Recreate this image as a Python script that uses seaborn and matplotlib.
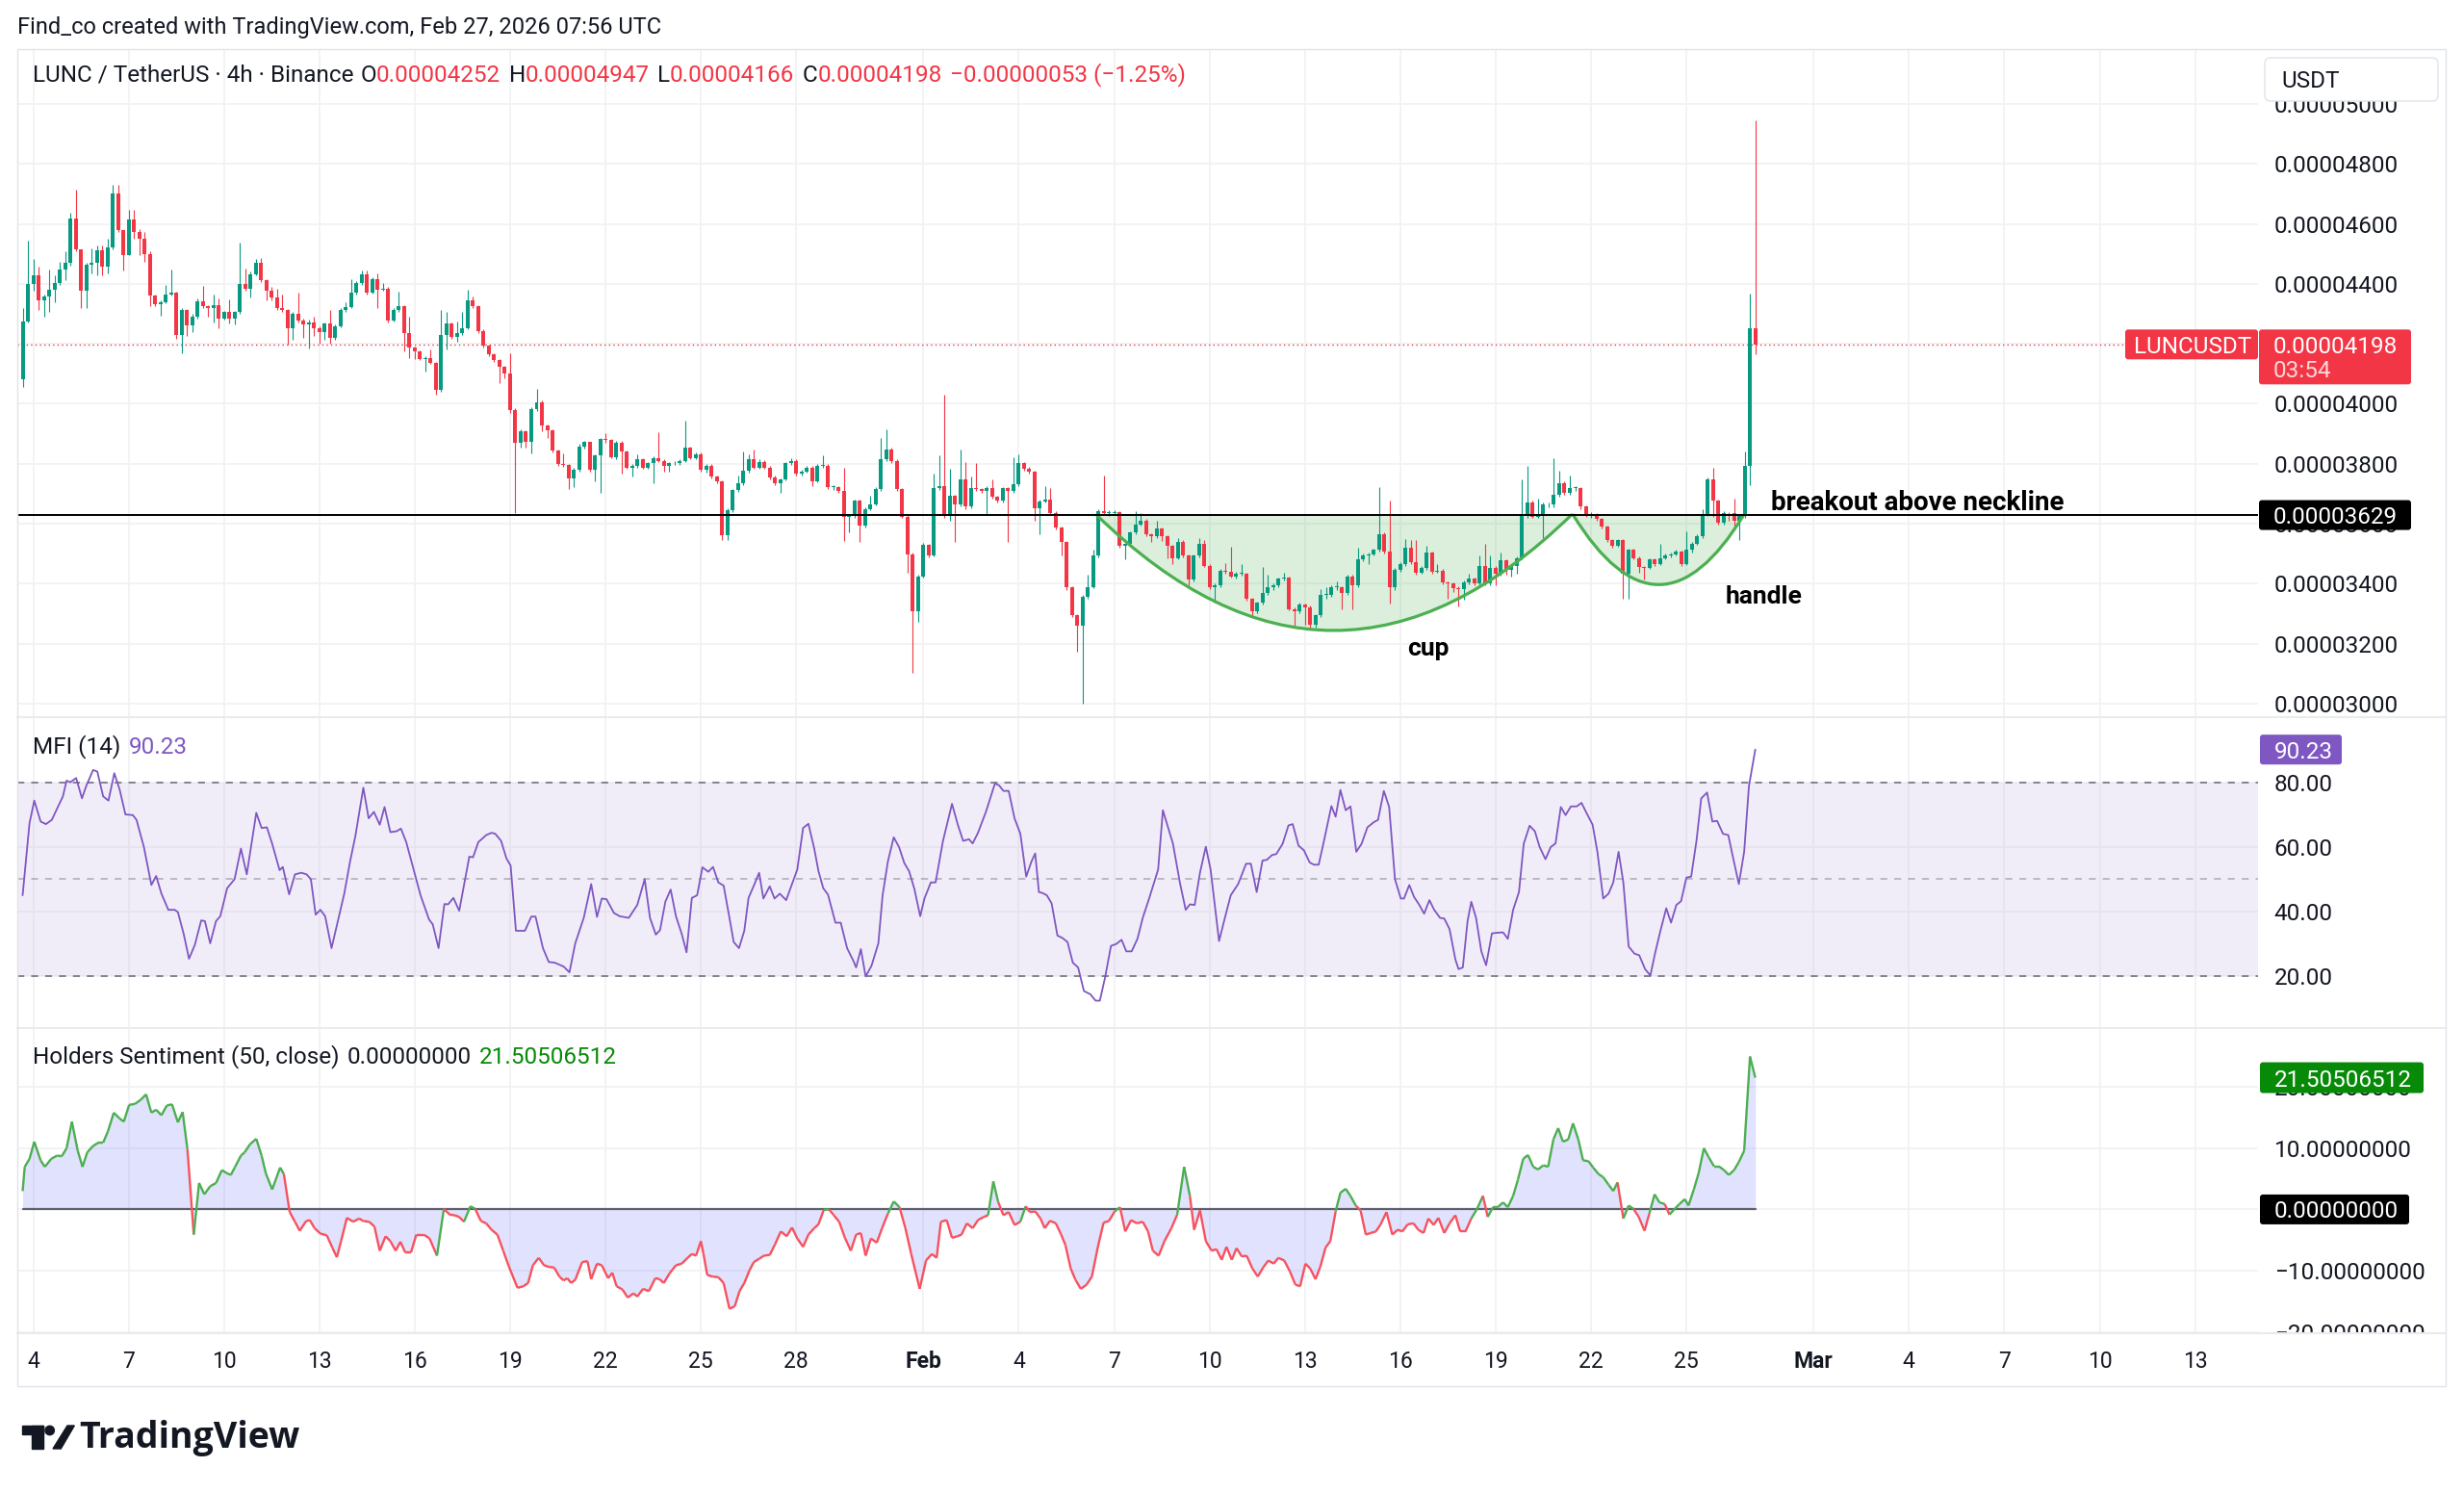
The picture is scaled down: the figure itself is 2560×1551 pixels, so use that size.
import numpy as np
import pandas as pd
import seaborn as sns
import matplotlib.pyplot as plt
from matplotlib.path import Path
from matplotlib.patches import PathPatch, Rectangle, FancyBboxPatch, Polygon, Circle
from matplotlib.collections import LineCollection
from matplotlib.lines import Line2D
from matplotlib.transforms import IdentityTransform

sns.set_style("white")
plt.rcParams['font.family'] = ['Roboto', 'DejaVu Sans']

W, H = 2560, 1551

# LUNC / USDT 4h candles, prices in units of 1e-8 USDT
# first bar opens Jan 3 16:00 UTC, last one Feb 27 04:00 UTC
first_open = 4082
last_open = 4252
closes = [
    4276, 4399, 4430, 4344, 4357, 4381, 4403, 4449, 4469, 4617,
    4515, 4377, 4465, 4469, 4512, 4458, 4521, 4702, 4580, 4496,
    4616, 4574, 4551, 4498, 4360, 4331, 4340, 4364, 4371, 4229,
    4312, 4263, 4292, 4342, 4325, 4318, 4329, 4285, 4305, 4285,
    4305, 4399, 4384, 4433, 4469, 4413, 4377, 4354, 4318, 4312,
    4253, 4299, 4279, 4266, 4272, 4253, 4240, 4268, 4220, 4259,
    4312, 4321, 4371, 4403, 4433, 4371, 4416, 4381, 4384, 4279,
    4312, 4327, 4237, 4187, 4174, 4148, 4154, 4137, 4046, 4230,
    4268, 4224, 4236, 4253, 4344, 4325, 4242, 4194, 4165, 4145,
    4122, 4102, 3978, 3870, 3909, 3873, 3981, 4006, 3928, 3912,
    3844, 3798, 3797, 3752, 3781, 3856, 3873, 3781, 3827, 3883,
    3879, 3823, 3870, 3840, 3788, 3794, 3814, 3788, 3801, 3818,
    3810, 3794, 3801, 3801, 3810, 3853, 3820, 3833, 3781, 3794,
    3757, 3742, 3561, 3646, 3712, 3735, 3778, 3814, 3788, 3807,
    3788, 3755, 3735, 3748, 3801, 3810, 3768, 3774, 3788, 3742,
    3794, 3794, 3722, 3722, 3709, 3624, 3626, 3676, 3594, 3650,
    3666, 3716, 3814, 3846, 3810, 3716, 3624, 3499, 3309, 3425,
    3530, 3495, 3718, 3725, 3626, 3692, 3663, 3748, 3657, 3718,
    3716, 3709, 3718, 3689, 3676, 3718, 3709, 3731, 3801, 3784,
    3774, 3653, 3674, 3679, 3637, 3587, 3539, 3388, 3296, 3260,
    3355, 3388, 3493, 3643, 3637, 3637, 3640, 3526, 3532, 3571,
    3598, 3611, 3565, 3558, 3584, 3558, 3526, 3486, 3539, 3493,
    3414, 3493, 3532, 3460, 3388, 3394, 3443, 3440, 3425, 3434,
    3434, 3349, 3309, 3336, 3368, 3388, 3394, 3417, 3421, 3316,
    3309, 3329, 3322, 3263, 3296, 3362, 3362, 3388, 3388, 3368,
    3425, 3394, 3482, 3495, 3499, 3512, 3565, 3506, 3388, 3447,
    3467, 3519, 3473, 3438, 3453, 3503, 3440, 3443, 3404, 3401,
    3385, 3381, 3404, 3417, 3401, 3460, 3401, 3453, 3434, 3477,
    3447, 3460, 3486, 3627, 3670, 3624, 3626, 3663, 3663, 3696,
    3735, 3702, 3718, 3718, 3657, 3630, 3630, 3617, 3590, 3545,
    3526, 3545, 3434, 3512, 3486, 3456, 3453, 3480, 3467, 3486,
    3493, 3499, 3506, 3467, 3512, 3532, 3558, 3630, 3748, 3676,
    3604, 3637, 3634, 3611, 3626, 3794, 4251, 4198]
highs = [
    4318, 4544, 4482, 4456, 4364, 4449, 4430, 4475, 4508, 4638,
    4714, 4515, 4469, 4517, 4528, 4528, 4551, 4730, 4730, 4580,
    4648, 4648, 4583, 4574, 4508, 4365, 4345, 4397, 4449, 4375,
    4318, 4315, 4300, 4351, 4393, 4330, 4364, 4351, 4310, 4347,
    4310, 4538, 4452, 4440, 4482, 4486, 4415, 4390, 4384, 4364,
    4315, 4305, 4371, 4285, 4280, 4292, 4258, 4272, 4312, 4265,
    4318, 4338, 4416, 4410, 4445, 4445, 4422, 4436, 4403, 4390,
    4318, 4373, 4330, 4292, 4190, 4178, 4160, 4181, 4140, 4312,
    4305, 4272, 4276, 4308, 4380, 4357, 4330, 4248, 4198, 4170,
    4150, 4128, 4167, 3985, 3915, 3912, 3988, 4050, 4010, 3932,
    3916, 3848, 3836, 3800, 3788, 3866, 3875, 3873, 3833, 3886,
    3901, 3883, 3876, 3875, 3845, 3800, 3831, 3818, 3806, 3824,
    3905, 3815, 3806, 3808, 3815, 3945, 3858, 3838, 3838, 3798,
    3798, 3760, 3745, 3652, 3716, 3761, 3840, 3831, 3846, 3815,
    3812, 3792, 3760, 3752, 3806, 3818, 3814, 3780, 3794, 3792,
    3800, 3827, 3798, 3730, 3726, 3788, 3632, 3680, 3680, 3656,
    3692, 3722, 3886, 3915, 3855, 3815, 3720, 3628, 3503, 3431,
    3536, 3533, 3768, 3827, 4032, 3784, 3698, 3846, 3807, 3757,
    3803, 3720, 3724, 3748, 3692, 3722, 3722, 3823, 3831, 3806,
    3790, 3778, 3680, 3726, 3718, 3642, 3592, 3543, 3392, 3300,
    3362, 3430, 3512, 3650, 3761, 3645, 3646, 3643, 3536, 3576,
    3643, 3637, 3615, 3568, 3611, 3588, 3562, 3530, 3552, 3545,
    3498, 3499, 3552, 3545, 3465, 3400, 3448, 3469, 3522, 3440,
    3467, 3438, 3352, 3340, 3456, 3430, 3400, 3422, 3438, 3425,
    3322, 3338, 3335, 3326, 3300, 3381, 3388, 3395, 3408, 3392,
    3430, 3430, 3519, 3500, 3503, 3518, 3722, 3570, 3676, 3452,
    3472, 3548, 3545, 3545, 3458, 3526, 3508, 3467, 3448, 3408,
    3406, 3390, 3410, 3434, 3422, 3493, 3532, 3493, 3458, 3503,
    3482, 3465, 3490, 3748, 3794, 3676, 3683, 3670, 3670, 3820,
    3778, 3740, 3761, 3726, 3722, 3660, 3640, 3634, 3620, 3594,
    3548, 3550, 3548, 3518, 3516, 3490, 3460, 3485, 3484, 3532,
    3500, 3505, 3512, 3510, 3574, 3540, 3565, 3650, 3755, 3788,
    3680, 3643, 3640, 3683, 3630, 3840, 4368, 4947]
lows = [
    4056, 4270, 4377, 4312, 4292, 4308, 4338, 4397, 4412, 4462,
    4508, 4318, 4318, 4436, 4430, 4430, 4436, 4515, 4574, 4443,
    4496, 4551, 4495, 4475, 4325, 4325, 4295, 4335, 4360, 4216,
    4168, 4226, 4240, 4285, 4318, 4292, 4272, 4253, 4280, 4268,
    4266, 4300, 4378, 4355, 4428, 4405, 4344, 4345, 4312, 4305,
    4198, 4213, 4272, 4220, 4183, 4226, 4200, 4213, 4200, 4214,
    4255, 4308, 4318, 4365, 4398, 4365, 4368, 4318, 4378, 4272,
    4274, 4305, 4174, 4154, 4150, 4145, 4109, 4132, 4030, 4040,
    4181, 4218, 4207, 4230, 4248, 4320, 4236, 4188, 4158, 4138,
    4069, 4085, 3970, 3634, 3853, 3853, 3836, 3975, 3909, 3886,
    3838, 3792, 3790, 3716, 3722, 3775, 3850, 3775, 3742, 3702,
    3870, 3818, 3815, 3768, 3782, 3757, 3788, 3782, 3784, 3735,
    3805, 3774, 3774, 3795, 3796, 3806, 3815, 3815, 3775, 3772,
    3750, 3735, 3545, 3545, 3640, 3705, 3730, 3770, 3782, 3784,
    3782, 3748, 3728, 3702, 3744, 3796, 3762, 3762, 3770, 3725,
    3738, 3788, 3716, 3712, 3702, 3541, 3571, 3620, 3539, 3588,
    3644, 3660, 3709, 3808, 3802, 3710, 3618, 3436, 3104, 3273,
    3420, 3488, 3490, 3712, 3620, 3611, 3539, 3658, 3650, 3652,
    3710, 3702, 3630, 3684, 3670, 3672, 3539, 3704, 3726, 3778,
    3768, 3611, 3565, 3670, 3632, 3580, 3493, 3380, 3288, 3172,
    3001, 3350, 3384, 3488, 3630, 3626, 3630, 3520, 3482, 3526,
    3566, 3594, 3558, 3539, 3552, 3541, 3486, 3467, 3480, 3488,
    3394, 3408, 3488, 3455, 3381, 3336, 3388, 3434, 3420, 3418,
    3428, 3342, 3290, 3302, 3330, 3362, 3380, 3388, 3410, 3310,
    3257, 3302, 3263, 3246, 3255, 3290, 3350, 3355, 3378, 3316,
    3362, 3316, 3388, 3476, 3467, 3493, 3506, 3500, 3333, 3380,
    3440, 3460, 3466, 3430, 3432, 3446, 3434, 3436, 3398, 3351,
    3372, 3325, 3346, 3398, 3395, 3396, 3395, 3396, 3394, 3428,
    3430, 3425, 3434, 3480, 3620, 3618, 3618, 3552, 3655, 3656,
    3690, 3696, 3696, 3710, 3650, 3624, 3620, 3610, 3584, 3539,
    3519, 3522, 3349, 3349, 3480, 3438, 3414, 3448, 3460, 3462,
    3480, 3488, 3495, 3460, 3462, 3505, 3530, 3552, 3625, 3624,
    3598, 3598, 3610, 3578, 3545, 3620, 3728, 4166]

# MFI(14): (bar index, value) at the turning points of the line
mfi_points = [
    (0.0, 45.0), (1.3, 67.4), (2.2, 74.4), (3.4, 67.9), (4.4, 67.1), (5.5, 68.4),
    (6.5, 71.9), (7.6, 75.7), (8.3, 80.6), (9.0, 80.1), (10.1, 81.4), (11.2, 75.1),
    (12.0, 78.9), (13.3, 83.9), (14.1, 83.4), (15.2, 75.7), (16.2, 74.4), (17.3, 82.9),
    (18.3, 77.9), (19.4, 70.1), (20.8, 69.9), (21.5, 68.4), (22.9, 59.9), (24.3, 48.2),
    (25.2, 51.0), (26.2, 45.5), (27.5, 40.5), (28.7, 40.5), (29.3, 39.8), (30.4, 33.0),
    (31.4, 25.3), (32.5, 29.6), (33.7, 37.2), (34.4, 37.0), (35.4, 30.1), (36.5, 37.0),
    (37.3, 38.5), (38.6, 47.2), (40.0, 50.0), (41.2, 59.5), (42.3, 51.5), (44.1, 70.6),
    (45.1, 65.9), (46.1, 66.1), (47.1, 61.0), (48.5, 52.8), (49.1, 53.8), (50.3, 45.3),
    (51.4, 51.5), (52.6, 52.0), (53.6, 51.5), (54.4, 50.0), (55.3, 39.0), (56.2, 40.5),
    (57.1, 38.5), (58.3, 28.6), (60.7, 45.5), (61.8, 55.5), (62.8, 63.4), (64.3, 78.4),
    (65.3, 68.9), (66.3, 70.9), (67.4, 66.9), (68.3, 72.4), (69.4, 64.6), (70.6, 64.9),
    (71.4, 65.7), (72.4, 61.5), (73.8, 53.0), (75.1, 45.0), (76.7, 37.5), (77.4, 36.0),
    (78.5, 28.6), (79.6, 42.3), (80.3, 42.2), (81.3, 44.2), (82.4, 40.2), (84.3, 57.0),
    (85.0, 56.8), (86.0, 61.5), (87.5, 63.7), (88.5, 64.4), (89.2, 64.1), (90.3, 61.9),
    (91.3, 56.5), (92.1, 54.2), (93.1, 34.0), (94.8, 34.0), (96.0, 38.4), (96.8, 38.4),
    (98.2, 28.6), (99.3, 24.3), (100.4, 24.1), (102.1, 22.9), (103.2, 21.1), (104.3, 30.1),
    (105.9, 38.0), (107.3, 48.5), (108.4, 38.3), (109.3, 44.0), (110.2, 43.8), (111.6, 39.5),
    (112.7, 38.5), (114.4, 38.0), (116.0, 42.0), (117.4, 50.0), (118.4, 38.0), (119.5, 32.8),
    (120.3, 34.2), (121.3, 43.0), (122.3, 46.8), (123.3, 38.5), (124.4, 33.0), (125.3, 27.3),
    (126.3, 44.2), (127.3, 45.0), (128.3, 53.7), (129.4, 52.3), (130.3, 53.8), (131.3, 49.0),
    (132.3, 48.0), (133.4, 38.0), (134.2, 30.5), (135.2, 28.6), (136.2, 34.0), (137.0, 44.2),
    (138.0, 48.0), (139.0, 52.0), (139.8, 44.0), (141.0, 47.8), (141.9, 44.0), (142.9, 45.5),
    (144.1, 43.5), (146.2, 53.0), (147.3, 65.9), (148.3, 67.2), (149.4, 59.5), (150.2, 52.5),
    (151.1, 47.2), (152.0, 45.2), (153.4, 36.5), (154.4, 36.5), (155.6, 28.6), (156.8, 24.6),
    (157.3, 22.6), (158.2, 28.3), (159.1, 19.8), (160.2, 23.1), (161.5, 30.1), (162.3, 45.0),
    (163.3, 55.5), (164.4, 63.0), (165.4, 60.0), (166.4, 55.0), (167.3, 52.5), (168.3, 47.0),
    (169.4, 38.5), (170.2, 44.0), (171.4, 49.0), (172.3, 49.0), (173.7, 61.9), (175.4, 73.4),
    (176.5, 66.9), (177.5, 61.9), (178.6, 62.4), (179.3, 61.1), (180.3, 64.4), (181.8, 70.9),
    (183.5, 79.7), (184.3, 79.1), (185.1, 77.4), (186.1, 77.4), (187.2, 68.9), (188.3, 64.1),
    (189.4, 50.8), (190.4, 55.5), (191.1, 58.0), (191.8, 46.0), (192.5, 45.7), (193.3, 45.0),
    (194.2, 42.5), (195.3, 32.5), (196.2, 31.8), (197.2, 30.5), (198.2, 24.1), (199.2, 22.6),
    (200.3, 15.3), (201.5, 14.3), (202.5, 12.3), (203.3, 12.3), (204.3, 19.6), (205.4, 29.3),
    (206.4, 29.9), (207.4, 31.2), (208.3, 27.6), (209.3, 27.6), (210.4, 31.5), (211.4, 38.0),
    (212.6, 44.0), (214.3, 53.0), (215.2, 71.4), (217.1, 61.0), (218.4, 49.0), (219.5, 40.5),
    (220.3, 42.2), (221.2, 42.0), (222.2, 52.0), (223.3, 60.1), (224.2, 53.0), (225.8, 30.8),
    (226.9, 38.0), (228.0, 45.0), (229.4, 48.5), (230.9, 54.8), (231.8, 54.8), (232.9, 46.0),
    (234.0, 55.8), (234.8, 56.0), (235.8, 57.5), (236.6, 57.8), (237.8, 61.0), (238.9, 66.7),
    (239.7, 67.1), (240.8, 60.4), (241.8, 59.0), (242.9, 55.2), (243.7, 54.5), (244.6, 54.5),
    (245.6, 61.9), (247.0, 72.7), (247.8, 69.4), (248.7, 77.7), (249.7, 71.4), (250.6, 72.6),
    (251.7, 58.5), (252.7, 61.0), (253.8, 66.1), (255.0, 67.7), (255.8, 68.4), (256.9, 77.4),
    (257.9, 72.4), (259.0, 50.0), (260.1, 44.0), (260.7, 44.0), (261.7, 48.2), (262.6, 44.5),
    (263.6, 42.0), (264.5, 39.3), (265.5, 43.5), (266.4, 40.5), (267.5, 38.0), (268.3, 37.8),
    (269.3, 34.5), (270.4, 25.1), (271.0, 22.1), (271.8, 22.6), (272.7, 37.0), (273.4, 43.0),
    (274.3, 38.0), (275.3, 27.6), (276.2, 23.3), (277.3, 33.2), (278.4, 33.4), (279.4, 33.5),
    (280.3, 31.5), (281.3, 40.5), (282.4, 46.0), (283.3, 61.0), (284.4, 66.6), (285.4, 64.9),
    (286.3, 60.0), (287.4, 56.2), (288.4, 60.0), (289.3, 61.1), (290.3, 72.4), (291.2, 69.9),
    (292.2, 72.6), (293.3, 72.6), (294.2, 73.7), (295.2, 70.4), (296.3, 66.9), (297.2, 58.5),
    (298.3, 44.0), (299.3, 45.5), (300.2, 49.0), (301.2, 58.5), (302.1, 49.0), (303.1, 29.1),
    (304.2, 26.9), (305.1, 26.4), (306.2, 22.1), (307.2, 20.1), (308.1, 27.1), (309.1, 34.0),
    (310.2, 41.0), (311.1, 36.5), (312.1, 42.0), (313.0, 43.2), (314.0, 50.5), (314.9, 50.8),
    (315.9, 61.9), (316.8, 75.1), (317.9, 76.9), (318.9, 67.9), (319.8, 68.1), (320.9, 64.1),
    (321.9, 63.7), (323.0, 55.2), (323.9, 48.5), (324.9, 58.5), (325.8, 78.9), (327.0, 90.23)]

# Holders Sentiment (50, close): (bar index, value)
sent_points = [
    (0.0, 3.0), (0.4, 6.95), (1.3, 8.26), (2.2, 11.05), (3.4, 8.0), (4.2, 6.95),
    (5.4, 8.26), (6.5, 8.79), (7.4, 8.68), (8.3, 10.0), (9.3, 14.32), (10.4, 9.58),
    (11.3, 6.95), (12.2, 9.32), (13.3, 10.37), (14.3, 10.9), (15.2, 10.9), (16.1, 12.74),
    (17.2, 15.79), (18.3, 14.85), (19.1, 14.32), (20.1, 17.06), (21.2, 17.22), (22.3, 17.9),
    (23.3, 18.79), (24.3, 15.79), (25.2, 16.27), (26.2, 15.37), (27.2, 16.95), (28.2, 17.16),
    (29.3, 14.21), (30.2, 15.9), (31.1, 9.84), (32.3, -4.11), (33.3, 4.31), (34.3, 2.47),
    (35.4, 3.79), (36.5, 4.31), (37.6, 6.42), (38.6, 5.89), (39.3, 5.63), (40.1, 6.95),
    (41.2, 8.79), (41.9, 9.32), (42.9, 10.63), (44.1, 11.53), (45.1, 8.79), (45.9, 5.89),
    (47.1, 3.26), (48.6, 6.84), (49.3, 5.79), (50.4, -0.43), (51.4, -2.01), (52.3, -3.48),
    (53.5, -1.9), (54.2, -1.74), (55.1, -3.06), (56.2, -3.95), (57.4, -4.22), (58.5, -6.32),
    (59.3, -7.8), (60.1, -5.17), (61.2, -1.37), (62.4, -2.01), (63.5, -1.48), (64.3, -1.9),
    (65.4, -2.01), (66.4, -2.8), (67.4, -6.74), (68.5, -4.38), (69.4, -5.17), (70.4, -6.74),
    (71.3, -5.27), (72.2, -7.01), (73.3, -7.01), (74.3, -4.11), (75.7, -4.11), (76.8, -4.74),
    (78.2, -7.54), (79.5, 0.1), (80.6, -0.85), (81.5, -0.95), (82.4, -1.22), (83.3, -2.01),
    (84.5, 0.52), (85.4, 0.1), (86.5, -1.9), (87.5, -2.27), (88.5, -3.32), (89.6, -4.11),
    (90.7, -6.74), (91.8, -9.38), (93.4, -12.8), (94.5, -12.54), (95.4, -12.01), (96.3, -9.11),
    (97.4, -7.9), (98.4, -9.11), (99.3, -9.38), (100.3, -9.48), (101.3, -10.96), (102.1, -11.59),
    (102.8, -11.22), (103.5, -12.01), (104.3, -11.48), (105.6, -8.59), (106.6, -8.43), (107.3, -11.38),
    (108.4, -8.85), (109.3, -9.11), (110.5, -11.22), (111.3, -10.33), (112.1, -12.54), (113.2, -13.06),
    (114.2, -14.38), (115.3, -13.7), (116.0, -14.22), (117.1, -12.96), (118.2, -13.33), (119.4, -11.22),
    (120.2, -11.38), (121.0, -12.01), (122.1, -10.43), (123.3, -9.11), (124.4, -8.85), (125.5, -7.9),
    (126.3, -7.27), (127.1, -7.54), (128.0, -5.17), (128.5, -7.27), (129.2, -10.69), (130.2, -10.96),
    (131.3, -11.06), (132.3, -12.01), (133.4, -16.22), (134.4, -15.8), (135.3, -13.33), (136.2, -12.01),
    (137.2, -9.9), (138.0, -8.59), (139.0, -8.06), (139.9, -7.54), (141.0, -7.43), (142.0, -5.69),
    (143.1, -3.59), (144.2, -4.38), (145.2, -2.95), (146.2, -4.74), (147.3, -6.11), (148.3, -4.11),
    (149.4, -3.06), (150.2, -2.43), (151.2, -0.06), (152.2, 0.0), (153.1, -0.95), (154.1, -2.01),
    (155.2, -4.64), (156.3, -6.74), (157.3, -4.11), (158.2, -3.85), (159.1, -7.54), (160.1, -4.74),
    (161.2, -5.43), (162.2, -3.06), (163.3, -0.69), (164.4, 1.31), (165.5, 0.36), (166.6, -3.06),
    (167.7, -7.27), (169.3, -12.96), (170.5, -8.33), (171.6, -7.27), (172.5, -7.9), (173.3, -2.01),
    (174.4, -1.74), (175.4, -4.64), (176.4, -4.38), (177.2, -4.11), (178.2, -2.27), (179.3, -3.06),
    (180.3, -1.74), (181.4, -1.22), (182.2, -0.95), (183.2, 4.58), (184.1, 1.26), (185.1, -0.95),
    (186.1, -0.43), (187.2, -2.53), (188.3, -2.01), (189.3, 0.52), (190.1, -0.43), (191.1, -0.32),
    (192.1, -1.48), (192.9, -3.06), (193.9, -1.85), (195.0, -2.27), (196.0, -4.11), (196.8, -5.8),
    (197.8, -9.64), (198.7, -11.48), (199.7, -12.96), (200.8, -12.28), (201.8, -10.96), (202.9, -6.22),
    (204.0, -2.16), (205.0, -1.9), (206.1, -0.32), (207.1, 0.36), (208.1, -3.59), (209.2, -1.74),
    (210.3, -2.27), (211.4, -2.01), (212.4, -3.59), (213.3, -6.74), (214.4, -7.54), (215.5, -5.17),
    (216.8, -3.06), (217.9, -0.85), (219.2, 6.95), (220.3, 2.21), (221.1, -3.32), (222.2, -0.16),
    (223.3, -5.17), (224.4, -6.74), (225.3, -6.48), (226.3, -8.22), (227.2, -6.11), (228.2, -8.22),
    (229.1, -6.32), (230.1, -7.69), (231.0, -7.54), (232.1, -9.64), (233.1, -10.96), (234.2, -9.38),
    (235.1, -8.33), (236.1, -8.85), (237.0, -7.9), (238.1, -8.33), (239.2, -10.17), (240.2, -12.28),
    (241.1, -12.54), (242.1, -8.85), (243.0, -9.64), (244.0, -11.38), (244.9, -9.38), (245.9, -6.22),
    (246.8, -5.17), (247.8, -0.32), (248.7, 2.73), (249.7, 3.37), (250.6, 2.21), (251.6, 0.63),
    (252.5, -0.16), (253.5, -4.11), (254.4, -3.85), (255.4, -3.59), (256.3, -2.43), (257.4, -0.43),
    (258.5, -4.11), (259.5, -3.32), (260.4, -3.59), (261.4, -2.43), (262.5, -2.27), (263.4, -3.32),
    (264.4, -3.85), (265.3, -1.48), (266.3, -2.53), (267.2, -1.37), (268.3, -3.85), (269.3, -2.27),
    (270.4, -0.95), (271.3, -3.59), (272.3, -3.59), (273.4, -1.48), (274.5, 0.1), (275.6, 2.21),
    (276.5, -1.22), (277.5, 0.36), (278.4, 0.36), (279.4, 1.15), (280.3, 0.36), (281.3, 2.21),
    (282.2, 4.84), (283.2, 8.26), (284.1, 8.89), (285.1, 6.95), (286.0, 6.52), (287.0, 7.21),
    (287.9, 6.95), (288.9, 11.42), (289.8, 13.27), (290.7, 11.05), (291.7, 11.42), (292.6, 14.06),
    (293.6, 11.42), (294.5, 8.0), (295.5, 7.89), (296.4, 6.84), (297.4, 5.79), (298.3, 5.26),
    (299.3, 4.05), (300.2, 3.0), (301.0, 4.42), (302.1, -1.48), (303.1, 0.63), (304.0, 0.1),
    (305.0, -1.22), (306.1, -3.48), (307.0, -0.69), (308.0, 2.47), (308.9, 1.15), (309.9, 0.89),
    (310.8, -0.85), (311.8, 0.1), (312.7, 0.89), (313.7, 1.68), (314.4, 0.63), (315.4, 3.26),
    (316.3, 5.89), (317.3, 10.0), (318.2, 8.53), (319.2, 7.05), (320.1, 7.05), (321.1, 6.42),
    (322.0, 5.63), (323.0, 6.42), (323.9, 7.74), (324.9, 9.58), (326.0, 24.96), (327.0, 21.50506512)]

# drawings: quadratic curves (start, control, end) in days after Jan 4 / price
neckline = 3629
cup_days, cup_prices = [33.45, 40.90, 48.38], [3629, 2859, 3629]
handle_days, handle_prices = [48.44, 51.14, 53.80], [3629, 3165, 3629]

tick_days = [0, 3, 6, 9, 12, 15, 18, 21, 24, 28, 31, 34, 37, 40, 43, 46, 49, 52, 56, 59, 62, 65, 68]
tick_labels = ['4', '7', '10', '13', '16', '19', '22', '25', '28', 'Feb', '4', '7', '10', '13',
               '16', '19', '22', '25', 'Mar', '4', '7', '10', '13']
price_ticks = list(range(3000, 5001, 200))
mfi_ticks = [20, 40, 60, 80]
sent_ticks = [-20, -10, 0, 10, 20]

t0 = -1 / 3  # first bar, in days after Jan 4 00:00
GREEN, RED = '#089981', '#f23645'
INK = '#131722'
PURPLE = '#7e57c2'
GRID = '#f2f2f4'
ID = IdentityTransform()
LBL = 17.5

fig = plt.figure(figsize=(W / 100, (H + 0.01) / 100), dpi=100)
fig.patch.set_facecolor('white')


def pane(top, bottom):
    return fig.add_axes([18 / W, 1 - bottom / H, (2346 - 18) / W, (bottom - top) / H])


ax_p = pane(51, 745)
ax_m = pane(745, 1068)
ax_s = pane(1068, 1385)
ax_p.set_zorder(1)  # legends hang off this one, keep them above the lower panes' grid

for ax in (ax_p, ax_m, ax_s):
    ax.set_facecolor('none')
    ax.set_xlim(-0.5, 69.98)
    ax.set_xticks(tick_days)
    ax.grid(True, color=GRID, lw=1.3)
    ax.set_axisbelow(True)
    for s in ax.spines.values():
        s.set_visible(False)
    ax.yaxis.tick_right()
    ax.tick_params(axis='y', length=0, pad=12, labelsize=LBL, labelcolor=INK)
    ax.tick_params(axis='x', length=0, labelbottom=False)

# ---- price pane ----
c = np.array(closes) * 1e-8
o = np.array([first_open] + closes[:-2] + [last_open]) * 1e-8
hi = np.array(highs) * 1e-8
lo = np.array(lows) * 1e-8
x = t0 + np.arange(len(closes)) / 6
col = np.where(c >= o, GREEN, RED)
ax_p.vlines(x, lo, hi, colors=col, lw=0.8, zorder=3)
ax_p.bar(x, np.maximum(np.abs(c - o), 3e-8), bottom=np.minimum(o, c), width=0.121,
         color=col, lw=0, zorder=4)
ax_p.set_ylim(2955e-8, 5183e-8)
ax_p.set_yticks([v * 1e-8 for v in price_ticks])
ax_p.set_yticklabels([f"{v * 1e-8:.8f}" for v in price_ticks])
ax_p.axhline(closes[-1] * 1e-8, color=RED, lw=1, ls=(0, (1, 2.3)), zorder=2)
ax_p.axhline(neckline * 1e-8, color='black', lw=1.4, zorder=6)

for days, prices in ((cup_days, cup_prices), (handle_days, handle_prices)):
    v = [(d, p * 1e-8) for d, p in zip(days, prices)]
    fill = Path(v + [v[0]], [Path.MOVETO, Path.CURVE3, Path.CURVE3, Path.LINETO])
    ax_p.add_patch(PathPatch(fill, fc='#4caf50', alpha=0.2, ec='none', zorder=2))
    line = Path(v, [Path.MOVETO, Path.CURVE3, Path.CURVE3])
    ax_p.add_patch(PathPatch(line, fc='none', ec='#4caf50', lw=2.3, zorder=5, capstyle='round'))

ax_p.text(43.88, 3183e-8, 'cup', fontsize=19, fontweight='bold', color='black',
          ha='center', va='center', zorder=7)
ax_p.text(54.45, 3356e-8, 'handle', fontsize=19, fontweight='bold', color='black',
          ha='center', va='center', zorder=7)
ax_p.text(54.66, 3668e-8, 'breakout above neckline', fontsize=20, fontweight='bold',
          color='black', ha='left', va='center', zorder=7)

# ---- MFI pane ----
mfi_bar, mfi_val = zip(*mfi_points)
mfi_days = t0 + np.array(mfi_bar) / 6
ax_m.set_ylim(3.8, 100.3)
ax_m.axhspan(20, 80, color=PURPLE, alpha=0.1, lw=0, zorder=1)
for lvl, a in ((80, 1.0), (50, 0.5), (20, 1.0)):
    ax_m.axhline(lvl, color='#787b86', alpha=a, lw=1.3, ls=(0, (4, 4)), zorder=2)
sns.lineplot(x=mfi_days, y=list(mfi_val), ax=ax_m, color=PURPLE, lw=1.3, zorder=4)
ax_m.set_xlabel('')
ax_m.set_ylabel('')
ax_m.set_yticks(mfi_ticks)
ax_m.set_yticklabels([f"{v:.2f}" for v in mfi_ticks])

# ---- Holders sentiment pane ----
sent_bar, sent_val = zip(*sent_points)
sd = t0 + np.array(sent_bar) / 6
sv = np.array(sent_val)
ax_s.set_ylim(-20.2, 29.6)
ax_s.fill_between(sd, sv, 0, color='#6b6ef5', alpha=0.2, lw=0, zorder=1)
ax_s.plot([sd[0], sd[-1]], [0, 0], color='#5d606b', lw=1.6, zorder=3)
segs = [[(sd[k], sv[k]), (sd[k + 1], sv[k + 1])] for k in range(len(sd) - 1)]
seg_cols = ['#4caf50' if sv[k + 1] >= 0 else '#f7525f' for k in range(len(sd) - 1)]
ax_s.add_collection(LineCollection(segs, colors=seg_cols, lw=1.7, zorder=4))
ax_s.set_yticks(sent_ticks)
ax_s.set_yticklabels([f"{v:.8f}".replace('-', '\u2212') for v in sent_ticks])
ax_s.tick_params(axis='x', labelbottom=True, pad=13, labelsize=16.5, labelcolor=INK)
ax_s.set_xticklabels(tick_labels)
for lbl in ax_s.get_xticklabels():
    if lbl.get_text() in ('Feb', 'Mar'):
        lbl.set_fontweight('bold')


# ---- frame, separators, labels ----
def hline(y, x0=18, x1=2541, color='#ebebeb', lw=1.5, z=8):
    fig.add_artist(Line2D([x0, x1], [H - y, H - y], transform=ID, color=color, lw=lw, zorder=z))


fig.add_artist(Rectangle((2347, H - 1438), 193, 52, transform=ID, fc='white', ec='none', zorder=4))
for y in (745, 1068, 1385):
    hline(y)
fig.add_artist(Rectangle((18, H - 1440), 2523, 1389, transform=ID, fill=False,
                         ec='#e0e3eb', lw=1, zorder=8))


def yd(ax, v):
    return ax.transData.transform((0, v))[1]


def tag(x0, w, yc, text, fc, h=31, tc='white'):
    fig.add_artist(FancyBboxPatch((x0, yc - h / 2), w, h, boxstyle='round,pad=0,rounding_size=3',
                                  transform=ID, fc=fc, ec='none', zorder=9))
    fig.text(x0 + 15, yc, text, color=tc, fontsize=LBL, va='center_baseline', ha='left',
             transform=ID, zorder=10)


yc = yd(ax_p, closes[-1] * 1e-8)
fig.add_artist(FancyBboxPatch((2347, yc - 41.5), 158, 57, boxstyle='round,pad=0,rounding_size=3',
                              transform=ID, fc=RED, ec='none', zorder=9))
fig.text(2362, yc, f"{closes[-1] * 1e-8:.8f}", color='white', fontsize=LBL,
         va='center_baseline', transform=ID, zorder=10)
fig.text(2362, yc - 25.5, '03:54', color='white', alpha=0.8, fontsize=LBL,
         va='center_baseline', transform=ID, zorder=10)
fig.add_artist(FancyBboxPatch((2208, yc - 15.5), 138, 31, boxstyle='round,pad=0,rounding_size=3',
                              transform=ID, fc=RED, ec='none', zorder=9))
fig.text(2217, yc, 'LUNCUSDT', color='white', fontsize=LBL, va='center_baseline',
         transform=ID, zorder=10)
tag(2347, 158, yd(ax_p, neckline * 1e-8), f"{neckline * 1e-8:.8f}", 'black')
tag(2348, 85, yd(ax_m, mfi_val[-1]), f"{mfi_val[-1]:.2f}", PURPLE)
tag(2348, 170, yd(ax_s, sv[-1]), f"{sv[-1]:.8f}", '#078a07', h=32)
tag(2348, 155, yd(ax_s, 0), f"{0:.8f}", 'black')

fig.add_artist(FancyBboxPatch((2353, H - 105), 180, 45, boxstyle='round,pad=0,rounding_size=6',
                              transform=ID, fc='white', ec='#e0e3eb', lw=1, zorder=9))
fig.text(2370, H - 82, 'USDT', color=INK, fontsize=LBL, va='center_baseline',
         transform=ID, zorder=10)

fig.text(18, H - 28, 'Find_co created with TradingView.com, Feb 27, 2026 07:56 UTC',
         color=INK, fontsize=17, va='center', transform=ID)


def legend_row(y, parts, size=17.5):
    t = fig.text(34, H - y, parts[0][0], color=parts[0][1], fontsize=size, va='center',
                 transform=ID, zorder=10)
    for s, colr, gap in parts[1:]:
        t = ax_p.annotate(s, xy=(1, 0.5), xycoords=t, xytext=(gap, 0), textcoords='offset points',
                          va='center', ha='left', color=colr, fontsize=size, zorder=10)


chg = closes[-1] - closes[-2]
pct = chg / closes[-2] * 100
fmt = lambda v: f"{v * 1e-8:.8f}"
legend_row(78, [('LUNC / TetherUS \u00b7 4h \u00b7 Binance', INK),
                ('O', INK, 5), (fmt(last_open), RED, 0),
                ('H', INK, 6), (fmt(highs[-1]), RED, 0),
                ('L', INK, 6), (fmt(lows[-1]), RED, 0),
                ('C', INK, 6), (fmt(closes[-1]), RED, 0),
                (f"\u2212{fmt(abs(chg))} (\u2212{abs(pct):.2f}%)", RED, 6)])
legend_row(776, [('MFI (14)', INK), (f"{mfi_val[-1]:.2f}", PURPLE, 6)])
legend_row(1098, [('Holders Sentiment (50, close)', INK), (f"{0:.8f}", INK, 6),
                  (f"{sv[-1]:.8f}", '#078a07', 6)])

# TradingView logo
for patch in (Rectangle((22.7, H - 1490), 22.3, 9),
              Rectangle((33.3, H - 1505), 11.7, 24),
              Circle((51.7, H - 1486), 4.7),
              Polygon([(55, H - 1505), (63.3, H - 1505), (77.3, H - 1481), (70, H - 1481)])):
    patch.set_transform(ID)
    patch.set_color('#131722')
    fig.add_artist(patch)
fig.text(82, H - 1494, 'TradingView', color='#131722', fontsize=27, fontweight='bold',
         family='Open Sans', va='center', transform=ID)

fig.savefig('out.png', dpi=100)
